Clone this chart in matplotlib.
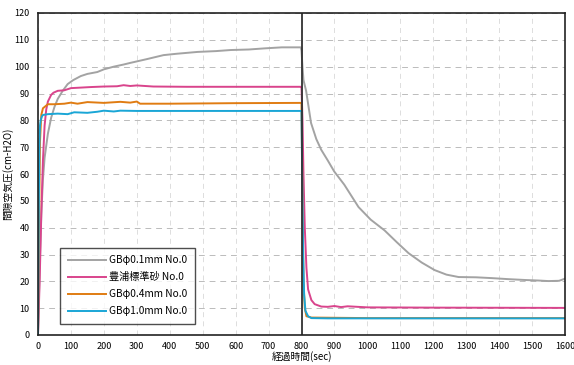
import matplotlib
matplotlib.use("Agg")
import matplotlib.pyplot as plt
import numpy as np

plt.rcParams['font.family'] = ['Noto Sans CJK JP', 'DejaVu Sans']

# --- data ---
gray_t = [0, 5, 10, 15, 20, 30, 40, 50, 60, 75, 90, 107, 130, 150, 180, 200, 230, 260, 280, 330, 381, 420, 485, 540, 585, 640, 686, 740, 798,
          800, 803, 806, 814, 829, 845, 860, 880, 899, 930, 973, 1010, 1052, 1090, 1125, 1165, 1204, 1240, 1277, 1330, 1378, 1430, 1479, 1520, 1550, 1582, 1600]
gray_v = [0, 25, 45, 58, 66, 75, 81, 85, 88, 91, 93.5, 95, 96.5, 97.3, 98, 99, 100, 100.8, 101.4, 102.8, 104.3, 104.8, 105.5, 105.8, 106.2, 106.4, 106.8, 107.2, 107.2,
          106, 100, 95, 91, 79, 73, 69, 65, 61, 56, 47.7, 43, 39, 34.5, 30.5, 27, 24.2, 22.5, 21.6, 21.5, 21.2, 20.8, 20.5, 20.3, 20.1, 20.2, 21]

pink_t = [0, 5, 10, 15, 20, 25, 30, 40, 47, 60, 80, 100, 130, 160, 200, 240, 260, 280, 300, 350, 450, 600, 798,
          800, 803, 806, 810, 815, 820, 830, 840, 860, 880, 900, 920, 940, 1000, 1200, 1600]
pink_v = [0, 20, 45, 65, 78, 84, 87, 89.5, 90.3, 91, 91.2, 92, 92.2, 92.4, 92.6, 92.7, 93.1, 92.8, 93, 92.6, 92.5, 92.5, 92.5,
          92.5, 80, 60, 40, 25, 17, 13, 11.5, 10.6, 10.5, 10.8, 10.4, 10.7, 10.3, 10.2, 10.1]

orange_t = [0, 3, 6, 10, 15, 20, 30, 50, 80, 100, 120, 150, 200, 250, 280, 300, 310, 400, 600, 798,
            800, 803, 806, 810, 815, 830, 1000, 1600]
orange_v = [0, 40, 72, 82, 84.5, 85, 86, 86, 86.2, 86.6, 86.2, 86.8, 86.5, 86.9, 86.6, 87, 86.2, 86.2, 86.4, 86.5,
            86.5, 50, 20, 10, 7, 6.5, 6.3, 6.3]

cyan_t = [0, 2, 4, 6, 8, 12, 15, 30, 60, 90, 110, 150, 180, 200, 230, 250, 300, 500, 798,
          800, 802, 805, 808, 812, 820, 830, 880, 900, 1000, 1600]
cyan_v = [0, 40, 70, 78, 80, 81.5, 82, 82.3, 82.5, 82.3, 83, 82.8, 83.2, 83.6, 83.3, 83.6, 83.5, 83.5, 83.5,
          83.5, 60, 30, 15, 9, 7, 6.3, 6.2, 6.2, 6.2, 6.2]

labels = ["GBφ0.1mm No.0", "豊浦標準砂 No.0", "GBφ0.4mm No.0", "GBφ1.0mm No.0"]
colors = ["#a3a3a3", "#d9448c", "#e07c12", "#1aa6d6"]

x_ticks = list(range(0, 1601, 100))
y_ticks = list(range(0, 121, 10))

fig = plt.figure(figsize=(5.74, 3.65), dpi=100)
ax = fig.add_axes([38/574, 1-335/365, (565-38)/574, (335-13)/365])

series = [(gray_t, gray_v), (pink_t, pink_v), (orange_t, orange_v), (cyan_t, cyan_v)]
for (t, v), c, lab in zip(series, colors, labels):
    ax.plot(t, v, color=c, lw=1.4, label=lab)

ax.axvline(800, color="#333333", lw=1.3)

ax.set_xlim(0, 1600)
ax.set_ylim(0, 120)
ax.set_xticks(x_ticks)
ax.set_yticks(y_ticks)
ax.tick_params(axis='both', labelsize=6.5, length=0)
ax.tick_params(axis='x', pad=5)
ax.tick_params(axis='y', pad=6)
ax.grid(axis='y', color='#bbbbbb', ls=(0, (6, 5)), lw=0.7)
ax.grid(axis='x', color='#d8d8d8', ls=(0, (6, 5)), lw=0.6)
ax.set_axisbelow(True)
for s in ax.spines.values():
    s.set_color('#222222')
    s.set_linewidth(1.2)

ax.set_ylabel("間隙空気圧(cm-H2O)", fontsize=7, labelpad=1)
ax.set_xlabel("経過時間(sec)", fontsize=7, labelpad=0)

leg = ax.legend(loc='lower left', bbox_to_anchor=(22/527, 11/322), borderaxespad=0,
                fontsize=7.3, frameon=True, fancybox=False, edgecolor='#222222',
                handlelength=3.8, borderpad=0.75, labelspacing=0.7, handletextpad=0.3)
leg.get_frame().set_linewidth(1.0)

fig.savefig("out.png", dpi=100)
